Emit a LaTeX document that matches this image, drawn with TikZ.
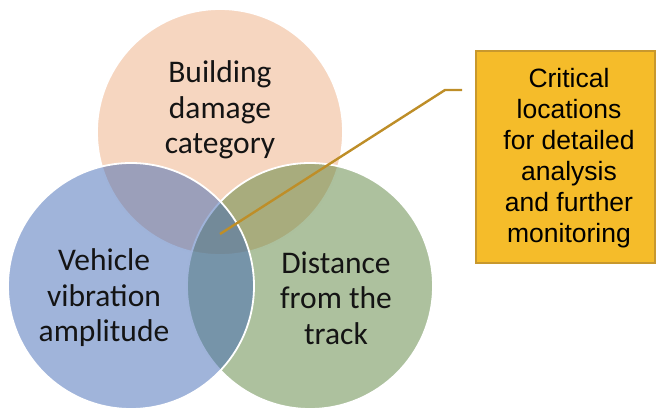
\documentclass[tikz,border=0pt]{standalone}
\usepackage{fontspec}
\setmainfont{Carlito}
\newfontfamily\calloutfont{Liberation Sans}
\definecolor{damagefill}{RGB}{237,173,129}
\definecolor{vibfill}{RGB}{65,105,181}
\definecolor{distfill}{RGB}{91,131,61}
\definecolor{calloutfill}{RGB}{245,188,42}
\definecolor{calloutedge}{RGB}{200,152,45}
\definecolor{leader}{RGB}{190,142,40}
\definecolor{inktext}{RGB}{20,20,20}
\begin{document}
\begin{tikzpicture}[x=1pt,y=-1pt,
  venn/.style={circle, minimum size=246pt, inner sep=0pt, draw=white,
    line width=1.8pt, fill opacity=0.5},
  vennlabel/.style={font=\fontsize{31.5}{35.5}\selectfont, align=center,
    text=inktext, inner sep=0pt},
  callout/.style={rectangle, fill=calloutfill, draw=calloutedge,
    line width=1.8pt, minimum width=179pt, minimum height=212pt, inner sep=0pt},
  callouttext/.style={font=\calloutfont\fontsize{26.5}{31}\selectfont,
    align=center, text=black, inner sep=0pt},
  leaderline/.style={draw=leader, line width=2.4pt}]
\useasboundingbox (0,0) rectangle (656,408);

% the three overlapping criteria
\node[venn, fill=damagefill] (damage) at (220,132) {};
\node[venn, fill=distfill] (distance) at (310,286) {};
\node[venn, fill=vibfill] (vibration) at (131,286) {};

\node[vennlabel] (damagetxt) at (220,110) {Building\\damage\\category};
\node[vennlabel] (vibtxt) at (104,298) {Vehicle\\vibration\\amplitude};
\node[vennlabel] (disttxt) at (336,298) {Distance\\from the\\track};

% callout box
\node[callout] (crit) at (565.5,157) {};
\node[callouttext] (crittxt) at (569,158)
  {Critical\\locations\\for detailed\\analysis\\and further\\monitoring};

% leader line from the triple overlap towards the callout
\coordinate (focus) at (220,234);
\coordinate (elbow) at (445,90);
\coordinate (tail) at (462,90);
\draw[leaderline] (focus) -- (elbow) -- (tail);
\end{tikzpicture}
\end{document}
